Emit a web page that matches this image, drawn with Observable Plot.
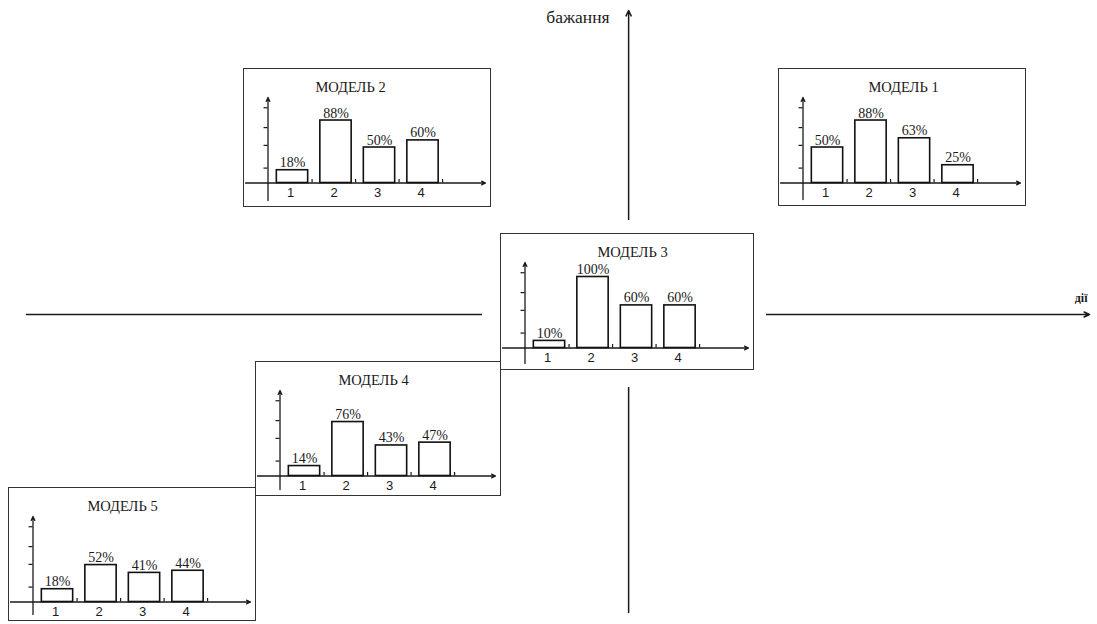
<!DOCTYPE html>
<html>
<head>
<meta charset="utf-8">
<script src="https://cdn.jsdelivr.net/npm/d3@7"></script>
<script src="https://cdn.jsdelivr.net/npm/@observablehq/plot@0.6"></script>
<style>
  html, body { margin: 0; padding: 0; background: #fff; }
  #stage { position: relative; width: 1097px; height: 624px; overflow: hidden; background: #fff; }
  #stage > .layer { position: absolute; left: 0; top: 0; }
  .panel { position: absolute; box-sizing: border-box; border: 1.5px solid #333; background: #fff; }
  .panel svg, #stage svg { display: block; overflow: visible; }
</style>
</head>
<body>
<div id="stage"></div>
<script>
// ---------- data ----------
const categories = ["1", "2", "3", "4"];
const titles = ["МОДЕЛЬ 1", "МОДЕЛЬ 2", "МОДЕЛЬ 3", "МОДЕЛЬ 4", "МОДЕЛЬ 5"];
const model1 = [50, 88, 63, 25];
const model2 = [18, 88, 50, 60];
const model3 = [10, 100, 60, 60];
const model4 = [14, 76, 43, 47];
const model5 = [18, 52, 41, 44];
const modelValues = [model1, model2, model3, model4, model5];
const yTicks = [21, 53, 78, 106];           // unlabeled ticks on each small y axis (%)
const axisNames = { x: "дії", y: "бажання" };

// ---------- layout (pixels) ----------
const panelLayout = [
  { left: 778, top: 68,  width: 248, height: 138, titleX: 124, halo: false },
  { left: 243, top: 68,  width: 248, height: 139, titleX: 106, halo: false },
  { left: 500, top: 233, width: 254, height: 137, titleX: 131, halo: true  },
  { left: 255, top: 361, width: 246, height: 135, titleX: 117, halo: false },
  { left: 8,   top: 487, width: 248, height: 134, titleX: 113, halo: false }
];
const drawOrder = [1, 0, 2, 3, 4];
const serif = "'Liberation Serif', 'Times New Roman', serif";
const sans = "'Liberation Sans', Arial, sans-serif";
const ink = "#1a1a1a";

const stage = document.getElementById("stage");

// ---------- big cross (дії / бажання) ----------
const crossAxes = [
  { name: axisNames.x, x1: -1.3065, y1: 0, x2: 1, y2: 0 },
  { name: axisNames.y, x1: 0, y1: -0.99, x2: 0, y2: 1.01 }
];
const cross = Plot.plot({
  width: 1097, height: 624, margin: 0,
  x: { type: "linear", domain: [-1.3065, 1], range: [26, 1089], axis: null },
  y: { type: "linear", domain: [-0.99, 1.01], range: [612, 10], axis: null },
  marks: [
    Plot.arrow(crossAxes, { x1: "x1", y1: "y1", x2: "x2", y2: "y2", stroke: ink, strokeWidth: 1.5, headLength: 6, headAngle: 50 }),
    Plot.text([crossAxes[0]], { x: "x2", y: "y2", text: "name", textAnchor: "end", dx: -2, dy: -16, fontFamily: serif, fontSize: 12, fontWeight: "bold", fill: ink }),
    Plot.text([crossAxes[1]], { x: "x2", y: "y2", text: "name", textAnchor: "end", dx: -19, dy: 7, fontFamily: serif, fontSize: 17.5, fill: ink })
  ]
});
cross.classList.add("layer");
stage.appendChild(cross);

// ---------- small bar panels ----------
const pxPerCat = 43.5, catOrigin = 4.5;   // x(0) in inner px
const pxPerPct = 0.71, axisRow = 113.5;   // x axis row in inner px
const yAxisAt = 0.437, barHalf = 0.36, tickAfter = 0.45;

function makePanel(i) {
  const L = panelLayout[i];
  const w = L.width - 3, h = L.height - 3;
  const rows = modelValues[i].map((v, k) => ({ cat: k + 1, label: categories[k], value: v }));
  const xMin = -catOrigin / pxPerCat, xMax = (w - catOrigin) / pxPerCat;
  const yMin = -(h - axisRow) / pxPerPct, yMax = axisRow / pxPerPct;
  const svg = Plot.plot({
    width: w, height: h, margin: 0,
    x: { type: "linear", domain: [xMin, xMax], range: [0, w], axis: null },
    y: { type: "linear", domain: [yMin, yMax], range: [h, 0], axis: null },
    marks: [
      // axes with arrowheads
      Plot.arrow([{ a: xMin + 1 / pxPerCat, b: xMax - 4 / pxPerCat }], { x1: "a", x2: "b", y1: 0, y2: 0, stroke: ink, strokeWidth: 1.3, headLength: 5, headAngle: 50 }),
      Plot.arrow([{ a: yMin + 5 / pxPerPct, b: yMax - 28 / pxPerPct }], { x1: yAxisAt, x2: yAxisAt, y1: "a", y2: "b", stroke: ink, strokeWidth: 1.3, headLength: 5, headAngle: 50 }),
      Plot.ruleY(yTicks, { y: d => d, x1: yAxisAt - 4 / pxPerCat, x2: yAxisAt, stroke: ink, strokeWidth: 1.2 }),
      // bars
      Plot.rectY(rows, { x1: d => d.cat - barHalf, x2: d => d.cat + barHalf, y1: 0, y2: "value", fill: "white", stroke: "#111", strokeWidth: 1.6 }),
      Plot.ruleX(rows, { x: d => d.cat + tickAfter, y1: 0, y2: 5, stroke: ink, strokeWidth: 1.2 }),
      // labels
      Plot.text(rows, { x: "cat", y: "value", text: d => d.value + "%", lineAnchor: "bottom", dy: -3, fontFamily: serif, fontSize: 14, fill: ink }),
      Plot.text(rows, { x: "cat", y: 0, text: "label", lineAnchor: "top", dy: 5, dx: -2, fontFamily: sans, fontSize: 13, fill: ink }),
      Plot.text([titles[i]], { text: d => d, frameAnchor: "top-left", textAnchor: "middle", dx: L.titleX, dy: 12, fontFamily: serif, fontSize: 14.5, fill: ink })
    ]
  });
  const div = document.createElement("div");
  div.className = "panel";
  Object.assign(div.style, { left: L.left + "px", top: L.top + "px", width: L.width + "px", height: L.height + "px" });
  if (L.halo) div.style.boxShadow = "-3px 2px 0 15px #fff";
  div.appendChild(svg);
  return div;
}

drawOrder.forEach(i => stage.appendChild(makePanel(i)));
</script>
</body>
</html>
